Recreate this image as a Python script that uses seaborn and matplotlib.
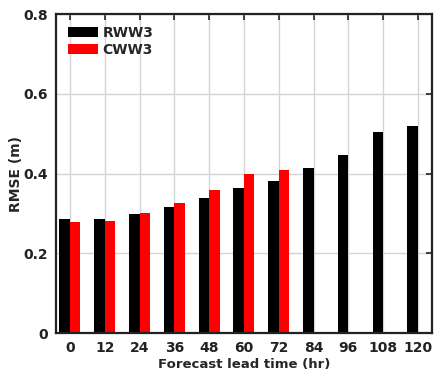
import pandas as pd
import matplotlib
matplotlib.use("Agg")
import matplotlib.pyplot as plt
import seaborn as sns

# Data
lead_time = ["0", "12", "24", "36", "48", "60", "72", "84", "96", "108", "120"]
rww3 = [0.285, 0.285, 0.299, 0.317, 0.339, 0.365, 0.382, 0.413, 0.447, 0.504, 0.519]
cww3 = [0.278, 0.280, 0.300, 0.327, 0.359, 0.398, 0.408, None, None, None, None]

df = pd.DataFrame({
    "lead": lead_time * 2,
    "rmse": rww3 + cww3,
    "model": ["RWW3"] * len(lead_time) + ["CWW3"] * len(lead_time),
})

sns.set_style("white")
plt.rcParams["font.family"] = ["DejaVu Sans"]
plt.rcParams["font.weight"] = "bold"

fig = plt.figure(figsize=(4.34, 3.73), dpi=100)
ax = fig.add_axes([0.129, 0.107, 0.866, 0.855])

sns.barplot(data=df, x="lead", y="rmse", hue="model", order=lead_time,
            hue_order=["RWW3", "CWW3"], palette={"RWW3": "black", "CWW3": "red"},
            width=0.6, errorbar=None, linewidth=0, saturation=1, ax=ax)

ax.set_xlim(-0.4, 10.4)
ax.set_ylim(0, 0.8)
ax.set_yticks([0, 0.2, 0.4, 0.6, 0.8])
ax.set_yticklabels(["0", "0.2", "0.4", "0.6", "0.8"])
ax.grid(True, color="#d4d4d4", linewidth=1)
ax.set_axisbelow(True)

for s in ax.spines.values():
    s.set_linewidth(1.6)
    s.set_color("#222222")
ax.tick_params(direction="in", length=4, width=1.2, top=True, right=True,
               labelsize=10, colors="#222222", pad=6)
for lab in ax.get_xticklabels() + ax.get_yticklabels():
    lab.set_fontweight("bold")

ax.set_xlabel("Forecast lead time (hr)", fontsize=9.5, fontweight="bold", labelpad=2)
ax.set_ylabel("RMSE (m)", fontsize=10, fontweight="bold", labelpad=0)

leg = ax.legend(loc="upper left", frameon=False, handlelength=2.2, handleheight=0.75,
                handletextpad=0.3, labelspacing=0.2, borderaxespad=0.45,
                prop={"weight": "bold", "size": 10})

fig.savefig("out.png", dpi=100)
